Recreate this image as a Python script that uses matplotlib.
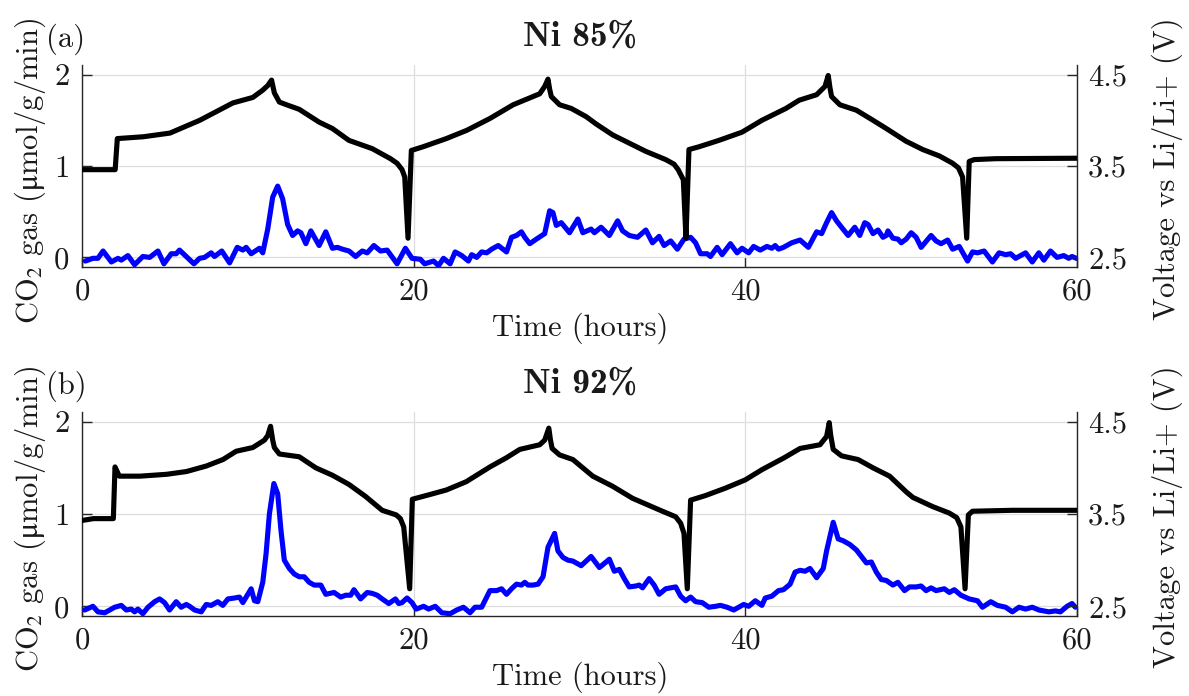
import matplotlib
matplotlib.use("Agg")
import matplotlib.pyplot as plt

plt.rcParams["font.family"] = ["cmr10", "DejaVu Serif"]
plt.rcParams["mathtext.fontset"] = "stix"
plt.rcParams["axes.formatter.use_mathtext"] = True
plt.rcParams["axes.unicode_minus"] = False

# ---------------- data ----------------
titles = ["Ni 85%", "Ni 92%"]
panel_tags = ["(a)", "(b)"]
x_ticks = [0, 20, 40, 60]
co2_ticks = [0, 1, 2]
volt_ticks = [2.5, 3.5, 4.5]
volt_tick_labels = ["2.5", "3.5", "4.5"]

# Ni 85% : CO2 evolution rate (umol/g/min)
t_co2_a = [0.2, 0.66, 0.96, 1.27, 1.77, 2.17, 2.37, 2.77, 3.17, 3.67, 4.08, 4.58, 4.94, 5.38,
           5.68, 5.88, 6.29, 6.75, 7.09, 7.39, 7.79, 7.99, 8.43, 8.9, 9.36, 9.7, 9.9, 10.2,
           10.7, 10.9, 11.2, 11.5, 11.8, 12.1, 12.4, 12.7, 13.0, 13.2, 13.5, 13.8, 14.3, 14.7,
           15.1, 15.4, 15.7, 16.1, 16.5, 16.9, 17.2, 17.6, 18.0, 18.4, 19.0, 19.5, 19.9,
           20.4, 20.66, 21.2, 21.5, 21.8, 22.2, 22.5, 22.9, 23.3, 23.5, 23.8, 24.1, 24.4, 24.7,
           25.1, 25.6, 25.9, 26.2, 26.5, 26.7, 27.0, 27.4, 27.9, 28.2, 28.4, 28.6, 28.9, 29.4,
           29.9, 30.2, 30.7, 30.9, 31.3, 31.8, 32.3, 32.6, 33.0, 33.5, 34.0, 34.4, 34.8, 35.1,
           35.5, 35.9, 36.3, 36.7, 37.0, 37.3, 37.7, 37.9, 38.3, 38.6, 39.1, 39.5, 39.8,
           40.2, 40.5, 40.9, 41.3, 41.6, 41.8, 42.0, 42.3, 42.8, 43.3, 43.8, 44.3, 44.6, 44.9,
           45.2, 45.5, 45.8, 46.2, 46.6, 46.9, 47.2, 47.4, 47.7, 48.0, 48.3, 48.5, 48.6, 48.9,
           49.2, 49.4, 49.7, 50.0, 50.3, 50.6, 51.2, 51.5, 51.8, 52.2, 52.5, 52.9, 53.4, 53.7,
           54.0, 54.4, 54.9, 55.3, 55.7, 56.0, 56.3, 56.9, 57.3, 57.7, 58.0, 58.4, 58.8, 59.2,
           59.5, 59.7, 59.96]
co2_a = [-0.04, -0.01, -0.01, 0.07, -0.05, -0.01, -0.03, 0.02, -0.08, 0.01, 0.0, 0.07, -0.07, 0.04,
         0.04, 0.08, 0.01, -0.07, -0.01, 0.0, 0.05, 0.01, 0.07, -0.06, 0.11, 0.08, 0.11, 0.04,
         0.10, 0.05, 0.31, 0.66, 0.78, 0.64, 0.36, 0.24, 0.29, 0.27, 0.15, 0.29, 0.13, 0.28,
         0.10, 0.11, 0.09, 0.07, 0.01, 0.07, 0.05, 0.13, 0.07, 0.08, -0.07, 0.10, -0.01,
         -0.02, -0.07, -0.04, -0.09, -0.01, -0.07, 0.06, 0.02, -0.04, 0.03, 0.0, 0.06, 0.05, 0.09,
         0.13, 0.06, 0.22, 0.24, 0.28, 0.22, 0.15, 0.20, 0.26, 0.51, 0.49, 0.35, 0.38, 0.27,
         0.42, 0.27, 0.31, 0.27, 0.33, 0.24, 0.40, 0.29, 0.24, 0.22, 0.30, 0.16, 0.23, 0.13,
         0.18, 0.09, 0.20, 0.22, 0.16, 0.04, 0.04, 0.01, 0.11, 0.03, 0.15, 0.05, 0.10,
         0.05, 0.12, 0.08, 0.12, 0.10, 0.13, 0.09, 0.11, 0.16, 0.19, 0.11, 0.28, 0.26, 0.38,
         0.49, 0.40, 0.33, 0.24, 0.33, 0.24, 0.38, 0.36, 0.26, 0.30, 0.22, 0.24, 0.29, 0.21,
         0.20, 0.16, 0.20, 0.27, 0.22, 0.11, 0.24, 0.18, 0.15, 0.19, 0.09, 0.12, -0.04, 0.06,
         0.05, 0.07, -0.05, 0.05, 0.03, 0.04, -0.01, 0.05, -0.05, 0.05, -0.03, 0.07, 0.0, 0.02,
         -0.01, 0.01, -0.01]

# Ni 85% : cell voltage vs Li/Li+ (V)
t_volt_a = [0.0, 2.0, 2.13, 3.7, 5.3, 7.1, 9.1, 10.3, 10.9, 11.2, 11.43, 11.6, 11.9, 12.33, 13.1,
            14.3, 15.1, 16.1, 17.5, 18.6, 19.0, 19.3, 19.46, 19.66, 19.86, 20.56, 21.97, 23.2,
            24.6, 26.0, 26.8, 27.6, 27.9, 28.1, 28.2, 28.3, 28.8, 29.5, 30.4, 31.0, 32.0, 33.0,
            34.0, 35.2, 35.7, 35.95, 36.26, 36.42, 36.6, 37.2, 38.4, 39.8, 41.0, 42.45, 43.25,
            44.3, 44.8, 45.0, 45.1, 45.2, 45.7, 46.7, 47.7, 48.5, 49.7, 50.7, 51.7, 52.5, 52.85,
            53.1, 53.35, 53.5, 53.8, 55.1, 60.0]
volt_a = [3.46, 3.46, 3.80, 3.82, 3.86, 4.00, 4.19, 4.25, 4.33, 4.38, 4.44, 4.30, 4.20, 4.17, 4.12,
          3.98, 3.91, 3.78, 3.69, 3.58, 3.53, 3.46, 3.38, 2.71, 3.67, 3.71, 3.80, 3.89,
          4.02, 4.17, 4.23, 4.29, 4.37, 4.45, 4.34, 4.26, 4.17, 4.13, 4.04, 3.96, 3.84, 3.75,
          3.66, 3.57, 3.52, 3.46, 3.35, 2.71, 3.68, 3.71, 3.78, 3.87, 4.00, 4.13, 4.22,
          4.28, 4.37, 4.49, 4.36, 4.26, 4.17, 4.11, 4.00, 3.91, 3.77, 3.68, 3.61, 3.53, 3.48,
          3.38, 2.71, 3.55, 3.57, 3.58, 3.585]

# Ni 92% : CO2 evolution rate (umol/g/min)
t_co2_b = [0.16, 0.66, 0.96, 1.37, 1.67, 1.97, 2.37, 2.67, 2.97, 3.17, 3.37, 3.67, 3.98, 4.38,
           4.68, 4.98, 5.28, 5.68, 5.98, 6.29, 6.49, 6.79, 7.19, 7.49, 7.79, 8.19, 8.49, 8.8,
           9.2, 9.5, 9.7, 9.9, 10.2, 10.4, 10.6, 10.9, 11.1, 11.3, 11.57, 11.8, 12.0, 12.2,
           12.5, 12.8, 13.1, 13.4, 13.7, 14.0, 14.4, 14.7, 15.2, 15.6, 15.9, 16.2, 16.4, 16.8,
           17.2, 17.5, 17.8, 18.1, 18.5, 18.9, 19.1, 19.3, 19.6, 19.9, 20.15,
           20.6, 20.9, 21.3, 21.7, 22.2, 22.6, 23.0, 23.4, 23.7, 24.1, 24.6, 25.0, 25.3, 25.6,
           25.9, 26.2, 26.5, 26.7, 26.9, 27.2, 27.5, 27.8, 28.1, 28.5, 28.7, 29.0, 29.3, 29.6,
           30.1, 30.7, 31.2, 31.8, 32.1, 32.4, 32.7, 33.0, 33.4, 33.6, 33.8, 34.2, 34.5, 34.8,
           35.2, 35.5, 35.8, 36.1, 36.4, 36.7, 37.0, 37.4, 37.8, 38.2, 38.5, 38.9, 39.3, 39.6,
           39.9, 40.2, 40.6, 41.0, 41.2, 41.6, 42.0, 42.3, 42.7, 43.0, 43.3, 43.6, 43.9, 44.3,
           44.7, 44.9, 45.3, 45.6, 45.9, 46.3, 46.7, 47.0, 47.3, 47.6, 47.9, 48.2, 48.5, 48.9,
           49.2, 49.6, 49.9, 50.3, 50.6, 50.9, 51.2, 51.5, 52.0, 52.3, 52.6, 53.0, 53.5, 54.0,
           54.3, 54.8, 55.2, 55.7, 56.1, 56.5, 56.9, 57.3, 57.7, 58.3, 58.7, 59.0, 59.4, 59.7,
           59.9]
co2_b = [-0.04, 0.0, -0.06, -0.07, -0.04, -0.01, 0.01, -0.04, -0.03, -0.06, -0.03, -0.08, -0.01, 0.05,
         0.08, 0.04, -0.04, 0.05, -0.01, 0.02, 0.0, -0.04, -0.06, 0.02, 0.01, 0.05, 0.01, 0.08,
         0.09, 0.10, 0.04, 0.10, 0.19, 0.06, 0.05, 0.26, 0.57, 1.00, 1.33, 1.22, 0.82, 0.50,
         0.41, 0.35, 0.32, 0.32, 0.26, 0.23, 0.23, 0.13, 0.15, 0.10, 0.12, 0.12, 0.18, 0.08,
         0.15, 0.14, 0.12, 0.08, 0.03, 0.08, 0.03, 0.04, 0.09, 0.04, -0.03,
         0.0, -0.03, 0.0, -0.07, -0.08, -0.04, -0.01, -0.07, -0.01, -0.01, 0.17, 0.17, 0.19, 0.13,
         0.19, 0.24, 0.23, 0.26, 0.23, 0.23, 0.24, 0.32, 0.64, 0.79, 0.60, 0.53, 0.50, 0.49,
         0.44, 0.54, 0.42, 0.51, 0.38, 0.40, 0.30, 0.21, 0.22, 0.23, 0.20, 0.30, 0.23, 0.13,
         0.19, 0.20, 0.21, 0.11, 0.06, 0.10, 0.05, 0.04, -0.01, 0.0, 0.01, -0.01, -0.04, -0.01,
         0.02, 0.0, 0.06, 0.01, 0.09, 0.11, 0.17, 0.18, 0.24, 0.37, 0.39, 0.38, 0.41, 0.31,
         0.41, 0.60, 0.91, 0.73, 0.71, 0.67, 0.61, 0.54, 0.47, 0.48, 0.37, 0.29, 0.28, 0.23,
         0.26, 0.17, 0.21, 0.21, 0.22, 0.17, 0.20, 0.17, 0.19, 0.15, 0.18, 0.12, 0.08, 0.06,
         -0.01, 0.05, 0.01, -0.01, -0.06, -0.01, -0.03, -0.01, -0.04, -0.06, -0.05, -0.06, 0.0, 0.03,
         -0.01]

# Ni 92% : cell voltage vs Li/Li+ (V)
t_volt_b = [0.0, 0.7, 1.89, 1.99, 2.25, 3.5, 5.1, 6.3, 7.5, 8.5, 9.3, 10.3, 11.0, 11.2, 11.37,
            11.5, 11.6, 11.9, 13.1, 14.1, 15.1, 16.1, 17.1, 18.1, 18.95, 19.2, 19.4, 19.76,
            19.92, 20.96, 21.97, 23.17, 24.6, 25.6, 26.4, 27.6, 27.9, 28.15, 28.25, 28.35,
            28.8, 29.6, 30.8, 32.0, 33.2, 35.0, 35.8, 36.1, 36.3, 36.5, 36.7, 37.6, 38.8, 40.0,
            41.0, 42.35, 43.3, 44.5, 44.9, 45.06, 45.15, 45.3, 45.8, 46.8, 47.7, 48.7, 49.7,
            50.1, 51.3, 52.3, 52.75, 53.0, 53.25, 53.45, 53.7, 56.1, 60.0]
volt_b = [3.43, 3.45, 3.45, 4.01, 3.91, 3.91, 3.93, 3.96, 4.02, 4.09, 4.18, 4.22, 4.30, 4.35, 4.45,
          4.30, 4.22, 4.15, 4.12, 4.00, 3.92, 3.82, 3.69, 3.54, 3.49, 3.45, 3.36, 2.69,
          3.66, 3.71, 3.76, 3.85, 4.01, 4.11, 4.20, 4.25, 4.30, 4.43, 4.30, 4.21,
          4.14, 4.09, 3.91, 3.80, 3.67, 3.53, 3.47, 3.40, 3.29, 2.69, 3.65, 3.70, 3.78, 3.87,
          3.98, 4.11, 4.21, 4.25, 4.34, 4.49, 4.35, 4.20, 4.13, 4.09, 4.00, 3.91, 3.74,
          3.68, 3.58, 3.51, 3.46, 3.36, 2.69, 3.49, 3.53, 3.54, 3.54]

# ---------------- figure ----------------
W, H = 1189, 696
fig = plt.figure(figsize=(W / 100, H / 100), dpi=100)
fig.patch.set_facecolor("white")

FS = 22
LW = 3.7
SPINE = "#262626"
GRID = "#dedede"
TXT = "#1a1a1a"


def fx(x):
    return x / W


def fy(y):
    return 1 - y / H


panels = [
    dict(top=65, bottom=267, t_co2=t_co2_a, co2=co2_a, t_v=t_volt_a, v=volt_a),
    dict(top=412, bottom=616, t_co2=t_co2_b, co2=co2_b, t_v=t_volt_b, v=volt_b),
]

left_px, right_px = 82, 1077
co2_lim = (-0.105, 2.105)
volt_lim = (2.5 + co2_lim[0], 2.5 + co2_lim[1])

for i, p in enumerate(panels):
    ax = fig.add_axes([fx(left_px), fy(p["bottom"]), (right_px - left_px) / W,
                       (p["bottom"] - p["top"]) / H])
    ax.plot(p["t_co2"], p["co2"], color="#0000ff", lw=LW, solid_joinstyle="round",
            solid_capstyle="round", zorder=3)
    ax.set_xlim(0, 60)
    ax.set_ylim(*co2_lim)
    ax.set_xticks(x_ticks)
    ax.set_xticklabels([str(v) for v in x_ticks])
    ax.set_yticks(co2_ticks)
    ax.set_yticklabels([str(v) for v in co2_ticks])
    ax.grid(True, color=GRID, lw=0.9)
    ax.set_axisbelow(True)
    for s in ["top", "right"]:
        ax.spines[s].set_visible(False)
    for s in ["left", "bottom"]:
        ax.spines[s].set_color(SPINE)
        ax.spines[s].set_linewidth(1.0)
    ax.tick_params(axis="both", direction="in", length=7, width=1.0, color=SPINE,
                   labelsize=FS, labelcolor=TXT)
    ax.tick_params(axis="y", pad=9)
    ax.tick_params(axis="x", pad=8)

    ax2 = ax.twinx()
    ax2.plot(p["t_v"], p["v"], color="black", lw=LW, solid_joinstyle="round",
             solid_capstyle="round", zorder=3)
    ax2.set_ylim(*volt_lim)
    ax2.set_yticks(volt_ticks)
    ax2.set_yticklabels(volt_tick_labels)
    for s in ["top", "left", "bottom"]:
        ax2.spines[s].set_visible(False)
    ax2.spines["right"].set_color(SPINE)
    ax2.spines["right"].set_linewidth(1.0)
    ax2.tick_params(axis="y", direction="in", length=7, width=1.0, color=SPINE,
                    labelsize=FS, labelcolor=TXT, pad=8)

    top, bot = p["top"], p["bottom"]
    mid = (top + bot) / 2
    fig.text(fx(66), fy(top - 26), panel_tags[i], fontsize=FS, ha="center", va="center",
             color=TXT)
    fig.text(fx(580), fy(top - 28), titles[i], fontsize=25.5, ha="center", va="center",
             family=["cmb10", "DejaVu Serif"], color=TXT)
    fig.text(fx(580), fy(bot + 61), "Time (hours)", fontsize=FS, ha="center", va="center",
             color=TXT)
    fig.text(fx(30), fy(mid + 5), r"CO$_2$ gas ($\mathrm{\mu}$mol/g/min)", fontsize=FS,
             rotation=90, ha="center", va="center", color=TXT)
    fig.text(fx(1167), fy(mid + 3), "Voltage vs Li/Li+ (V)", fontsize=FS, rotation=90,
             ha="center", va="center", color=TXT)

fig.savefig("out.png", dpi=100, facecolor="white")
